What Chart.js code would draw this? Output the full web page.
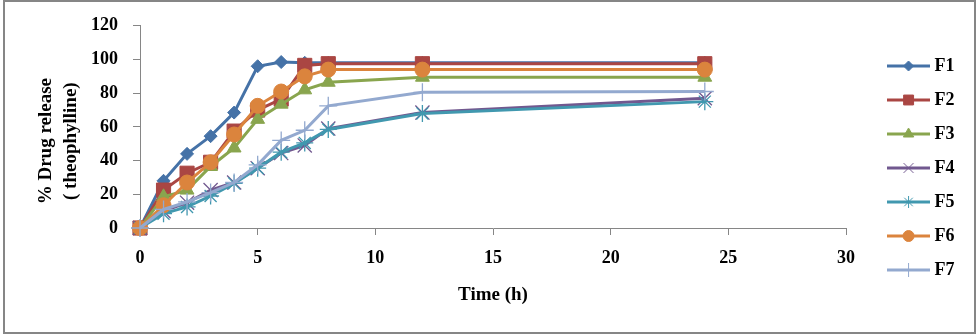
<!DOCTYPE html>
<html><head><meta charset="utf-8">
<script src="https://cdn.jsdelivr.net/npm/chart.js@4/dist/chart.umd.min.js"></script>
<style>
html,body{margin:0;padding:0;background:#fff;}
#wrap{position:relative;width:978px;height:336px;}
#frame{position:absolute;left:3px;top:0;width:973px;height:334px;box-sizing:border-box;border:2px solid #868686;pointer-events:none;}
canvas{display:block;}
</style></head><body>
<div id="wrap"><canvas id="c" width="978" height="336"></canvas><div id="frame"></div></div>
<script>
// ---- data ----
const timeHours = [0, 1, 2, 3, 4, 5, 6, 7, 8, 12, 24];
const seriesNames = ['F1', 'F2', 'F3', 'F4', 'F5', 'F6', 'F7'];
const F1 = [0, 28, 44, 54.5, 68.5, 96, 98.5, 98, 98, 98, 98];
const F2 = [0, 22.5, 32.5, 39, 57.5, 70, 76.5, 96.5, 97.5, 97.5, 97.5];
const F3 = [0, 18.5, 22.5, 36.5, 47.5, 64.5, 73.5, 82, 86.5, 89.5, 89.5];
const F4 = [0, 10, 15, 22.5, 27, 35.5, 44.5, 49, 59, 68.5, 77];
const F5 = [0, 8.5, 12.5, 19, 26.5, 35.5, 45, 50.5, 58.5, 68, 75];
const F6 = [0, 13.5, 27, 39, 55.5, 72.5, 81, 90, 94, 94, 94];
const F7 = [0, 11, 15.5, 21, 27, 37.5, 52, 58, 72.5, 80.5, 81];
const xTickValues = [0, 5, 10, 15, 20, 25, 30];
const yTickValues = [0, 20, 40, 60, 80, 100, 120];
const xTitle = 'Time (h)';
const yTitle = ['% Drug release', '( theophylline)'];

// ---- styles ----
const seriesValues = [F1, F2, F3, F4, F5, F6, F7];
const colors = ['#4572A7', '#AA4643', '#89A54E', '#71588F', '#4198AF', '#DB843D', '#93A9CF'];
const styles = ['rectRot', 'rect', 'triangle', 'crossRot', 'star', 'circle', 'cross'];
const radii = [6.5, 10, 8, 10, 8.5, 7.5, 9];
const legendRadii = [5, 7, 6, 7, 6, 5.5, 7];
const FAM = "'Liberation Serif', 'Times New Roman', serif";
const axisGrey = '#868686';

function drawMarker(g, style, r, x, y) {
  if (window.Chart && Chart.helpers && Chart.helpers.drawPoint) {
    Chart.helpers.drawPoint(g, {pointStyle: style, radius: r, rotation: 0, borderWidth: 1}, x, y);
  }
}
function legendIcon(i) {
  const cv = document.createElement('canvas');
  cv.width = 43; cv.height = 20;
  const g = cv.getContext('2d');
  g.strokeStyle = colors[i]; g.lineWidth = 3;
  g.beginPath(); g.moveTo(0, 10); g.lineTo(43, 10); g.stroke();
  g.fillStyle = colors[i]; g.strokeStyle = colors[i]; g.lineWidth = 1;
  drawMarker(g, styles[i], legendRadii[i], 21.5, 10);
  return cv;
}
const icons = seriesNames.map((_, i) => legendIcon(i));

const datasets = seriesNames.map((name, i) => ({
  label: name,
  data: timeHours.map((t, k) => ({x: t, y: seriesValues[i][k]})),
  borderColor: colors[i],
  backgroundColor: colors[i],
  borderWidth: 3,
  pointStyle: styles[i],
  pointRadius: radii[i],
  pointHoverRadius: radii[i],
  pointBorderWidth: (styles[i] === 'crossRot' || styles[i] === 'star' || styles[i] === 'cross') ? 1.3 : 1,
  pointBackgroundColor: colors[i],
  pointBorderColor: colors[i],
  tension: 0,
  clip: false,
  order: seriesNames.length - i
}));

new Chart(document.getElementById('c'), {
  type: 'line',
  data: {datasets},
  options: {
    responsive: false,
    animation: false,
    devicePixelRatio: 1,
    layout: {padding: {left: 0, top: 0, bottom: 0, right: 13.5}},
    plugins: {
      tooltip: {enabled: false},
      title: {display: true, text: '', font: {size: 25, lineHeight: 1}, padding: 0},
      legend: {
        position: 'right',
        labels: {
          usePointStyle: true,
          pointStyleWidth: 34,
          padding: 16,
          color: '#000',
          font: {family: FAM, size: 18, weight: 'bold'},
          generateLabels: chart => chart.data.datasets.map((ds, i) => ({
            text: ds.label, datasetIndex: i, pointStyle: icons[i],
            fillStyle: colors[i], strokeStyle: colors[i], lineWidth: 0, hidden: false
          })),
          sort: (a, b) => a.datasetIndex - b.datasetIndex
        }
      }
    },
    scales: {
      x: {
        type: 'linear', position: 'bottom', min: 0, max: 30,
        afterBuildTicks: s => { s.ticks = xTickValues.map(v => ({value: v})); },
        ticks: {color: '#000', font: {family: FAM, size: 18, weight: 'bold'}, padding: 13, maxRotation: 0, autoSkip: false},
        grid: {drawOnChartArea: false, drawTicks: true, tickLength: 7, color: axisGrey, lineWidth: 1},
        border: {color: axisGrey, width: 1},
        title: {display: true, text: xTitle, color: '#000', font: {family: FAM, size: 19, weight: 'bold'}, padding: {top: 0, bottom: 30}},
        afterFit: s => { s.height = 108; }
      },
      y: {
        type: 'linear', position: 'left', min: 0, max: 120,
        afterBuildTicks: s => { s.ticks = yTickValues.map(v => ({value: v})); },
        ticks: {color: '#000', font: {family: FAM, size: 18, weight: 'bold'}, padding: 15},
        grid: {drawOnChartArea: false, drawTicks: true, tickLength: 7, color: axisGrey, lineWidth: 1},
        border: {color: axisGrey, width: 1},
        title: {display: true, text: [yTitle[0] + '      ', yTitle[1] + '      '], color: '#000',
                font: {family: FAM, size: 19, weight: 'bold', lineHeight: 1.3}, padding: {top: 34, bottom: 0}},
        afterFit: s => { s.width = 140; }
      },
      spacer: {
        type: 'linear', position: 'right', display: true,
        grid: {display: false}, ticks: {display: false}, border: {display: false},
        afterFit: s => { s.width = 29.5; }
      }
    }
  }
});
</script>
</body></html>
